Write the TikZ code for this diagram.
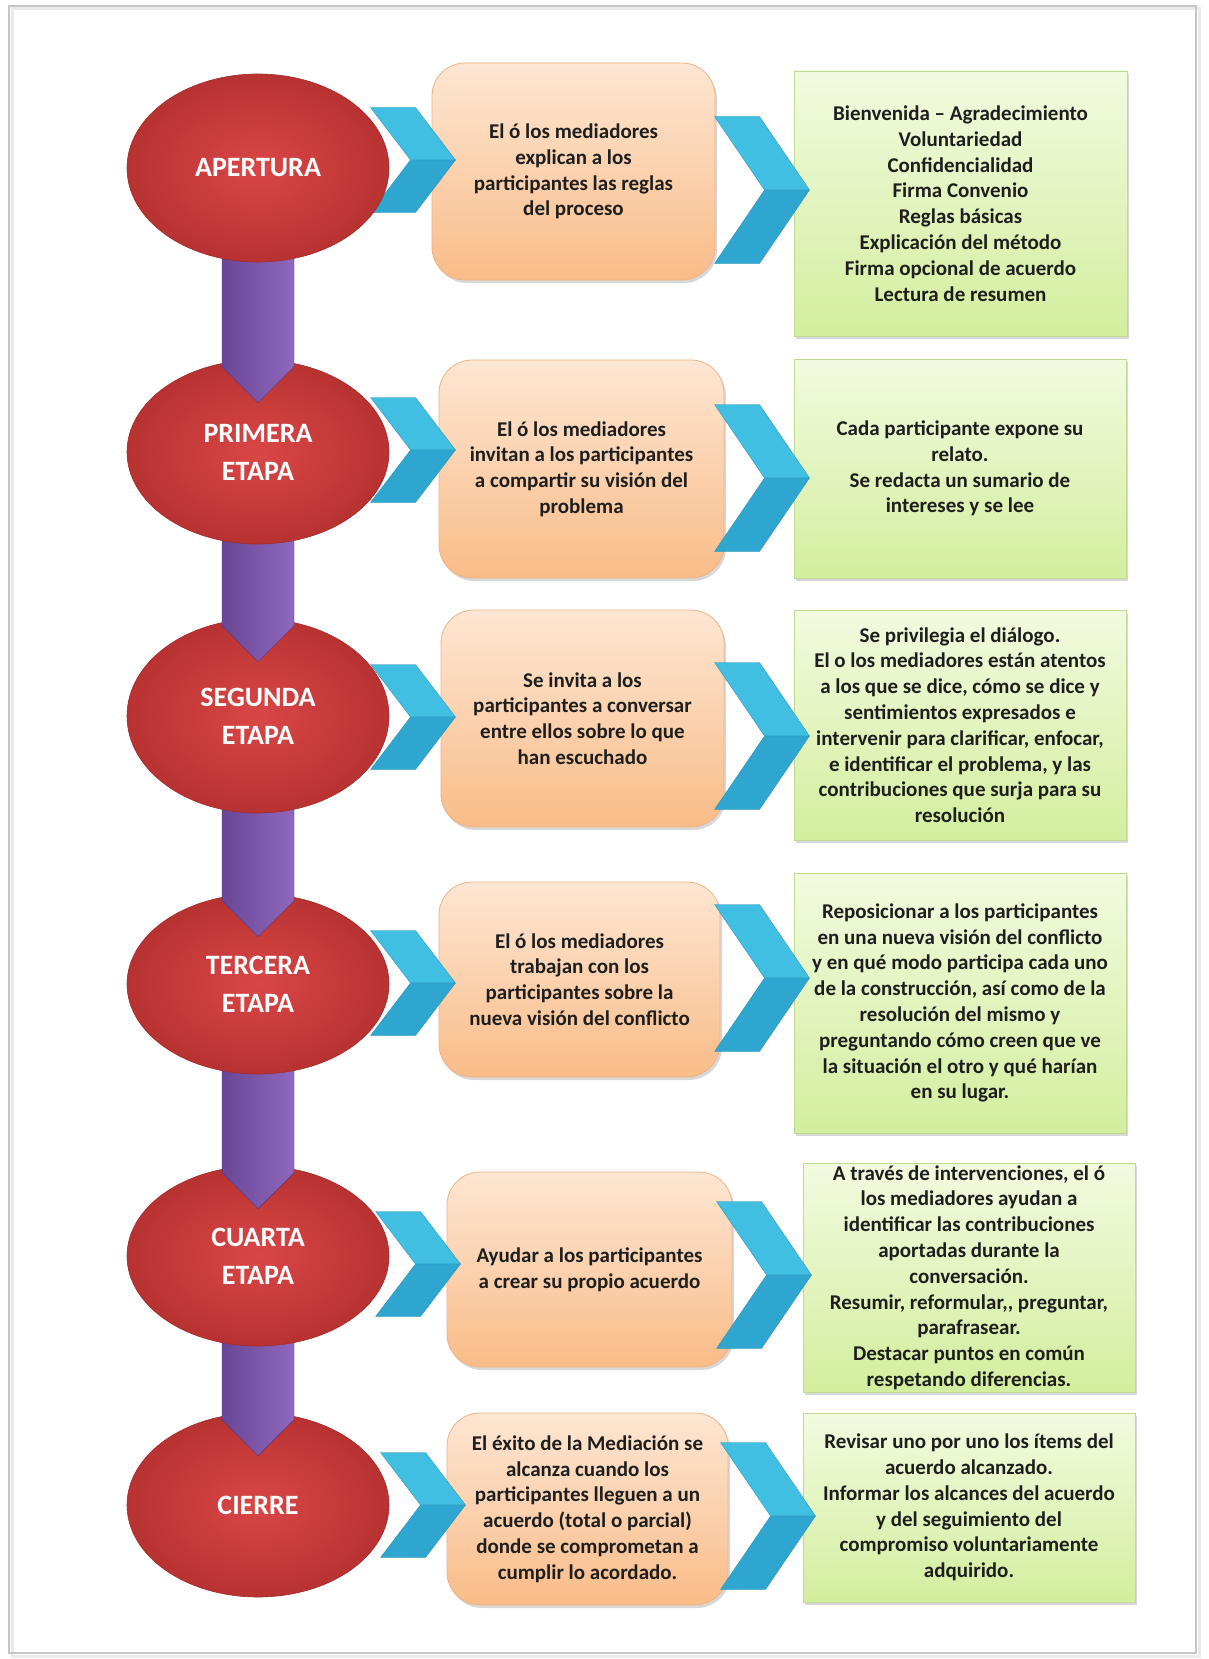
\documentclass[tikz,border=0pt]{standalone}
\usepackage{fontspec}
\newfontfamily\cf{Carlito}
\usetikzlibrary{shapes.geometric,shadows,calc}
\definecolor{otop}{HTML}{FDE6D3}
\definecolor{obot}{HTML}{F9BC88}
\definecolor{oedge}{HTML}{F0B386}
\definecolor{gtop}{HTML}{F2FADF}
\definecolor{gbot}{HTML}{D3EE9E}
\definecolor{gedge}{HTML}{BFDA92}
\definecolor{rin}{HTML}{DA4646}
\definecolor{rout}{HTML}{B83232}
\definecolor{redge}{HTML}{A52B2B}
\definecolor{cyA}{HTML}{41BFE2}
\definecolor{cyB}{HTML}{2FA6CF}
\definecolor{pl}{HTML}{6A4695}
\definecolor{pr}{HTML}{8F68BF}
\definecolor{txt}{HTML}{1E1E1E}
\definecolor{frame}{HTML}{C6C6C6}
\begin{document}
\begin{tikzpicture}[x=1pt,y=-1pt,
  boxfont/.style={font=\cf\bfseries\fontsize{21}{25.8}\selectfont},
  obox/.style={rectangle, rounded corners=33pt, draw=oedge, line width=0.8pt,
    top color=otop, bottom color=obot, boxfont, text=txt, align=center, inner sep=0pt,
    drop shadow={shadow xshift=2pt, shadow yshift=-3pt, opacity=0.3}},
  gbox/.style={rectangle, draw=gedge, line width=0.8pt,
    top color=gtop, bottom color=gbot, boxfont, text=txt, align=center, inner sep=0pt,
    drop shadow={shadow xshift=2pt, shadow yshift=-3pt, opacity=0.3}},
  stage/.style={ellipse, minimum width=262pt, inner sep=0pt, inner color=rin, outer color=rout,
    draw=redge, line width=0.6pt, text=white, align=center,
    font=\cf\bfseries\fontsize{28}{38}\selectfont},
  upperarm/.style={fill=cyA, draw=cyB!85!black, line width=0.3pt, line join=round},
  lowerarm/.style={fill=cyB, draw=cyB!85!black, line width=0.3pt, line join=round},
  purplearrow/.style={left color=pl, right color=pr, draw=pl!80!black, line width=0.4pt},
  smallchev/.pic={
    \path[upperarm] (-42.5,-52.5) -- (2.5,-52.5) -- (42.5,0) -- (-2.5,0) -- cycle;
    \path[lowerarm] (-2.5,0) -- (42.5,0) -- (2.5,52.5) -- (-42.5,52.5) -- cycle;
  },
  bigchev/.pic={
    \path[upperarm] (-47.5,-73.5) -- (-2.5,-73.5) -- (47.5,0) -- (2.5,0) -- cycle;
    \path[lowerarm] (2.5,0) -- (47.5,0) -- (-2.5,73.5) -- (-47.5,73.5) -- cycle;
  }
]
\useasboundingbox (0,0) rectangle (1208,1659);
\fill[white] (0,0) rectangle (1208,1659);
% page frame
\draw[black!8, line width=3pt] (12,9) rectangle (1199,1656);
\draw[frame, line width=1.6pt] (9,6) rectangle (1196,1653);

% orange boxes
\node[obox, minimum width=283pt, minimum height=217pt] (o1) at (573.5,171.5)
  {El ó los mediadores\\explican a los\\participantes las reglas\\del proceso};
\node[obox, minimum width=285pt, minimum height=218pt] (o2) at (581.5,469)
  {El ó los mediadores\\invitan a los participantes\\a compartir su visión del\\problema};
\node[obox, minimum width=283pt, minimum height=217pt] (o3) at (582.5,718.5)
  {Se invita a los\\participantes a conversar\\entre ellos sobre lo que\\han escuchado};
\node[obox, minimum width=281pt, minimum height=195pt] (o4) at (579.5,979.5)
  {El ó los mediadores\\trabajan con los\\participantes sobre la\\nueva visión del conflicto};
\node[obox, minimum width=285pt, minimum height=195pt] (o5) at (589.5,1269.5)
  {Ayudar a los participantes\\a crear su propio acuerdo};
\node[obox, minimum width=281pt, minimum height=192pt] (o6) at (587.5,1509)
  {El éxito de la Mediación se\\alcanza cuando los\\participantes lleguen a un\\acuerdo (total o parcial)\\donde se comprometan a\\cumplir lo acordado.};

% green boxes
\node[gbox, minimum width=333pt, minimum height=265pt] (g1) at (960.5,203.5)
  {Bienvenida – Agradecimiento\\Voluntariedad\\Confidencialidad\\Firma Convenio\\Reglas básicas\\Explicación del método\\Firma opcional de acuerdo\\Lectura de resumen};
\node[gbox, minimum width=332pt, minimum height=219pt] (g2) at (960,468.5)
  {Cada participante expone su\\relato.\\Se redacta un sumario de\\intereses y se lee};
\node[gbox, minimum width=332pt, minimum height=230pt] (g3) at (960,725)
  {Se privilegia el diálogo.\\El o los mediadores están atentos\\a los que se dice, cómo se dice y\\sentimientos expresados e\\intervenir para clarificar, enfocar,\\e identificar el problema, y las\\contribuciones que surja para su\\resolución};
\node[gbox, minimum width=332pt, minimum height=260pt] (g4) at (960,1003)
  {Reposicionar a los participantes\\en una nueva visión del conflicto\\y en qué modo participa cada uno\\de la construcción, así como de la\\resolución del mismo y\\preguntando cómo creen que ve\\la situación el otro y qué harían\\en su lugar.};
\node[gbox, minimum width=332pt, minimum height=229pt] (g5) at (969,1277.5)
  {A través de intervenciones, el ó\\los mediadores ayudan a\\identificar las contribuciones\\aportadas durante la\\conversación.\\Resumir, reformular,, preguntar,\\parafrasear.\\Destacar puntos en común\\respetando diferencias.};
\node[gbox, minimum width=332pt, minimum height=189pt] (g6) at (969,1507.5)
  {Revisar uno por uno los ítems del\\acuerdo alcanzado.\\Informar los alcances del acuerdo\\y del seguimiento del\\compromiso voluntariamente\\adquirido.};

% chevrons between stage and orange box, and orange and green box
\coordinate (k1) at (413,160);  \coordinate (m1) at (762,190);
\coordinate (k2) at (413,450);  \coordinate (m2) at (762,478);
\coordinate (k3) at (413,717);  \coordinate (m3) at (762,736);
\coordinate (k4) at (413,983);  \coordinate (m4) at (762,978);
\coordinate (k5) at (418,1264); \coordinate (m5) at (764,1275);
\coordinate (k6) at (423,1505); \coordinate (m6) at (768,1516);
\foreach \i in {1,...,6}{
  \pic at (k\i) {smallchev};
  \pic at (m\i) {bigchev};
}

% stage centres
\coordinate (c1) at (258,168);
\coordinate (c2) at (258,452);
\coordinate (c3) at (258,716);
\coordinate (c4) at (258,984);
\coordinate (c5) at (258,1256);
\coordinate (c6) at (258,1505);

% stages drawn bottom-up, each purple arrow over the lower stage and under the upper one
\node[stage, minimum height=184pt] (e6) at (c6) {CIERRE};
\path[purplearrow] ($(c5)+(-36,0)$) -- ($(c5)+(36,0)$) -- ($(e6.north)+(36,7)$)
  -- ($(e6.north)+(0,43)$) -- ($(e6.north)+(-36,7)$) -- cycle;
\node[stage, minimum height=180pt] (e5) at (c5) {CUARTA\\ETAPA};
\path[purplearrow] ($(c4)+(-36,0)$) -- ($(c4)+(36,0)$) -- ($(e5.north)+(36,7)$)
  -- ($(e5.north)+(0,43)$) -- ($(e5.north)+(-36,7)$) -- cycle;
\node[stage, minimum height=180pt] (e4) at (c4) {TERCERA\\ETAPA};
\path[purplearrow] ($(c3)+(-36,0)$) -- ($(c3)+(36,0)$) -- ($(e4.north)+(36,7)$)
  -- ($(e4.north)+(0,43)$) -- ($(e4.north)+(-36,7)$) -- cycle;
\node[stage, minimum height=194pt] (e3) at (c3) {SEGUNDA\\ETAPA};
\path[purplearrow] ($(c2)+(-36,0)$) -- ($(c2)+(36,0)$) -- ($(e3.north)+(36,7)$)
  -- ($(e3.north)+(0,43)$) -- ($(e3.north)+(-36,7)$) -- cycle;
\node[stage, minimum height=184pt] (e2) at (c2) {PRIMERA\\ETAPA};
\path[purplearrow] ($(c1)+(-36,0)$) -- ($(c1)+(36,0)$) -- ($(e2.north)+(36,7)$)
  -- ($(e2.north)+(0,43)$) -- ($(e2.north)+(-36,7)$) -- cycle;
\node[stage, minimum height=188pt] (e1) at (c1) {APERTURA};
\end{tikzpicture}
\end{document}
